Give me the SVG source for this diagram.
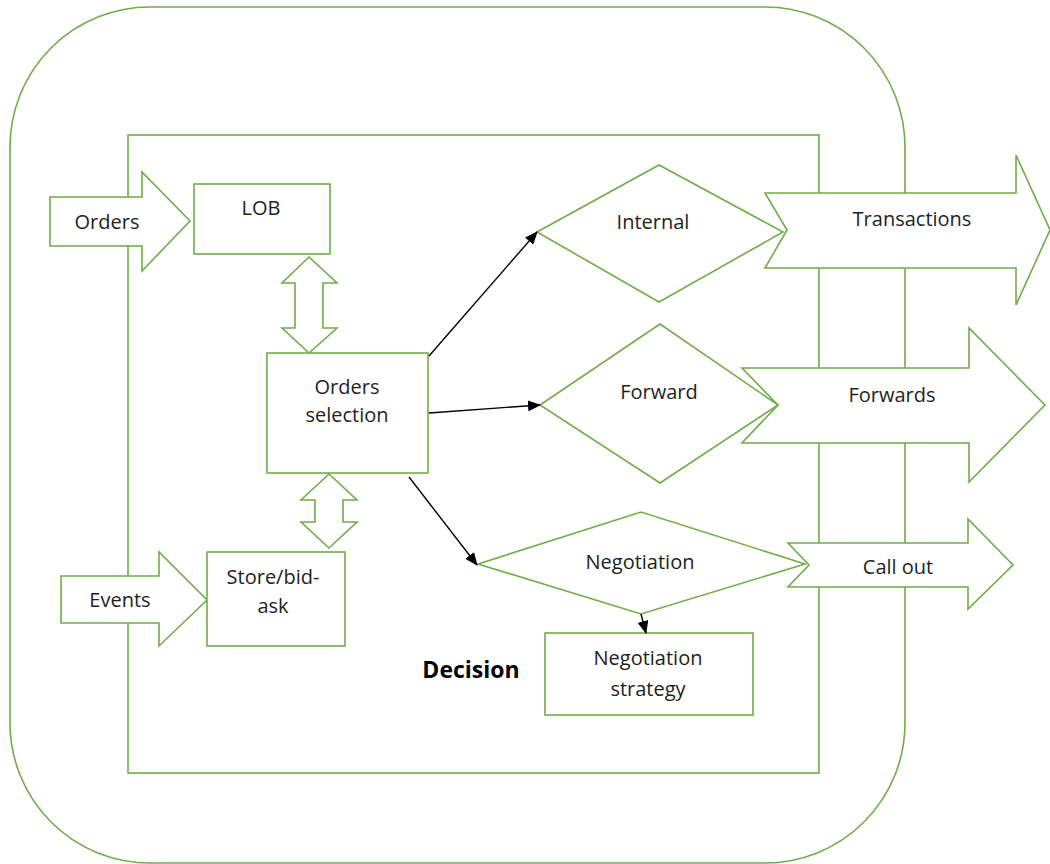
<svg xmlns="http://www.w3.org/2000/svg" width="1050" height="864" viewBox="0 0 1050 864">
  <style>
    .shape { fill: #ffffff; stroke: #70ad47; stroke-width: 1.6; stroke-linejoin: miter; }
    .frame { fill: none; stroke: #70ad47; stroke-width: 1.6; }
    .label { font-family: "Open Sans", "Liberation Sans", sans-serif; font-size: 20px; fill: #1e1e1e; text-anchor: middle; }
    .title { font-family: "Open Sans", "Liberation Sans", sans-serif; font-size: 23px; font-weight: bold; fill: #000000; text-anchor: middle; }
    .link { fill: none; stroke: #000000; stroke-width: 1.4; marker-end: url(#head); }
  </style>
  <defs>
    <marker id="head" viewBox="0 0 13 11" refX="12" refY="5.5" markerWidth="13" markerHeight="11" markerUnits="userSpaceOnUse" orient="auto">
      <path d="M0,0 L13,5.5 L0,11 Z" fill="#000000"/>
    </marker>
  </defs>

  <rect width="1050" height="864" fill="#ffffff"/>

  <!-- outer boundary and decision frame -->
  <g id="outer-boundary">
    <rect class="frame" x="10" y="7" width="895" height="856" rx="140" ry="140"/>
  </g>
  <g id="decision-frame">
    <rect class="frame" x="128" y="135" width="691" height="638"/>
    <text class="title" x="471" y="678">Decision</text>
  </g>

  <!-- inputs -->
  <g id="orders-in">
    <polygon class="shape" points="50,197 142,197 142,172 190,221 142,271 142,246 50,246"/>
    <text class="label" x="107" y="229">Orders</text>
  </g>
  <g id="events-in">
    <polygon class="shape" points="61,576 159,576 159,552 207,600 159,646 159,623 61,623"/>
    <text class="label" x="120" y="607">Events</text>
  </g>

  <!-- processing blocks -->
  <g id="lob">
    <rect class="shape" x="194" y="184" width="136" height="70"/>
    <text class="label" x="261" y="215">LOB</text>
  </g>
  <g id="lob-link">
    <polygon class="shape" points="309,257 337,283 323,283 323,328 337,328 309,353 282,328 295,328 295,283 282,283"/>
  </g>
  <g id="orders-selection">
    <rect class="shape" x="267" y="353" width="161" height="120"/>
    <text class="label" x="347" y="394">Orders</text>
    <text class="label" x="347" y="422">selection</text>
  </g>
  <g id="store-link">
    <polygon class="shape" points="329,474 357,500 343,500 343,522 357,522 329,548 301,522 315,522 315,500 301,500"/>
  </g>
  <g id="store-bid-ask">
    <rect class="shape" x="207" y="552" width="138" height="94"/>
    <text class="label" x="273" y="584">Store/bid-</text>
    <text class="label" x="273" y="613">ask</text>
  </g>

  <!-- outputs (drawn over the frames) -->
  <g id="transactions-out">
    <polygon class="shape" points="765,193 1016,193 1016,155 1050,230 1016,305 1016,268 765,268 787,230"/>
    <text class="label" x="912" y="226">Transactions</text>
  </g>
  <g id="forwards-out">
    <polygon class="shape" points="742,368 969,368 969,328 1045,405 969,482 969,443 742,443 778,405"/>
    <text class="label" x="892" y="402">Forwards</text>
  </g>
  <g id="callout-out">
    <polygon class="shape" points="788,543 968,543 968,519 1013,565 968,609 968,587 788,587 809,565"/>
    <text class="label" x="898" y="574">Call out</text>
  </g>

  <!-- decisions -->
  <g id="internal">
    <polygon class="shape" points="537,232 659,165 783,232 659,302"/>
    <text class="label" x="653" y="229">Internal</text>
  </g>
  <g id="forward">
    <polygon class="shape" points="540,405 660,324 778,405 660,483"/>
    <text class="label" x="659" y="399">Forward</text>
  </g>
  <g id="negotiation">
    <polygon class="shape" points="478,564 641,512 805,564 641,614"/>
    <text class="label" x="640" y="569">Negotiation</text>
  </g>
  <g id="negotiation-strategy">
    <rect class="shape" x="545" y="633" width="208" height="82"/>
    <text class="label" x="648" y="665">Negotiation</text>
    <text class="label" x="648" y="696">strategy</text>
  </g>

  <!-- connectors -->
  <g id="connectors">
    <line class="link" x1="429" y1="356" x2="537" y2="232"/>
    <line class="link" x1="429" y1="413" x2="540" y2="405"/>
    <line class="link" x1="409" y1="477" x2="477" y2="565"/>
    <line class="link" x1="641" y1="614" x2="646" y2="633"/>
  </g>
</svg>
